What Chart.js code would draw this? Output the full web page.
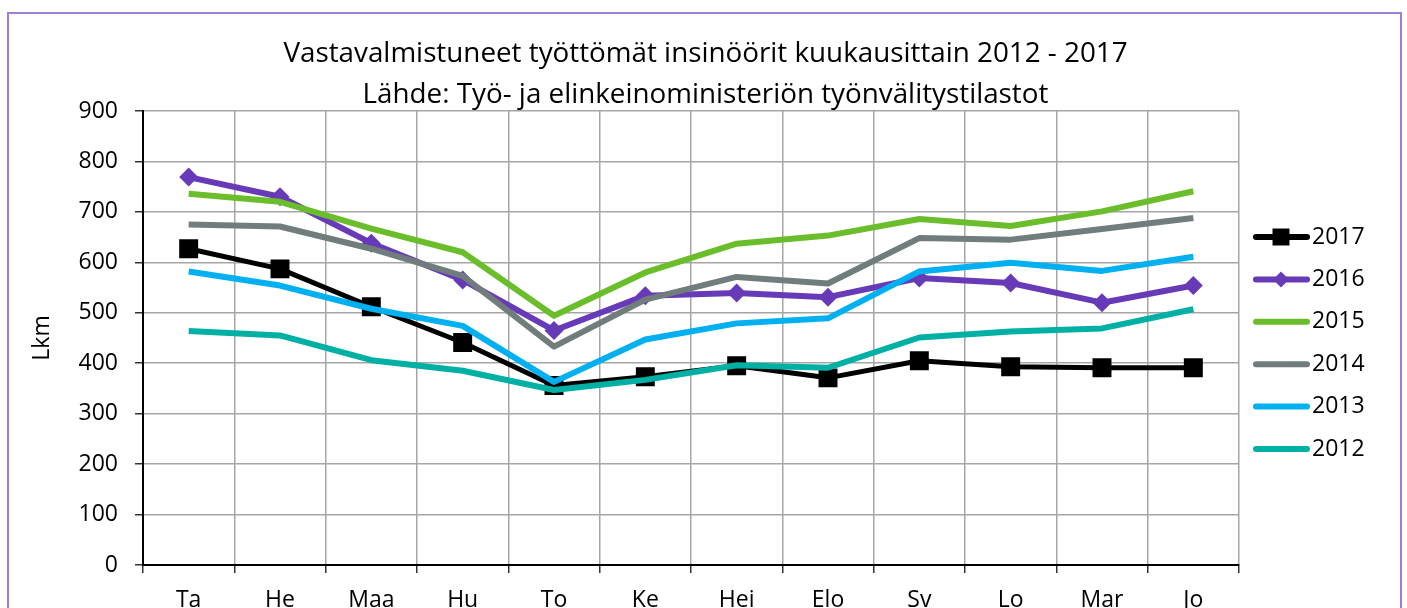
<!DOCTYPE html>
<html>
<head>
<meta charset="utf-8">
<script src="https://cdn.jsdelivr.net/npm/chart.js@4"></script>
<style>
    body { margin: 0; overflow: hidden; background: #fff; }
    #frame {
        position: absolute; left: 7px; top: 12px;
        width: 1391px; height: 660px;
        border: 2px solid #9B80D6;
    }
    canvas { display: block; }
</style>
</head>
<body>
<div id="frame"><canvas id="unemployedChart" width="1391" height="640"></canvas></div>
<script>
const months = ['Ta', 'He', 'Maa', 'Hu', 'To', 'Ke', 'Hei', 'Elo', 'Sv', 'Lo', 'Mar', 'Jo'];
const yTicks = [0, 100, 200, 300, 400, 500, 600, 700, 800, 900];

const y2017 = [627, 587, 512, 441, 356, 373, 395, 371, 405, 393, 391, 391];
const y2016 = [769, 730, 638, 565, 465, 534, 539, 531, 569, 559, 520, 554];
const y2015 = [736, 720, 667, 620, 494, 580, 637, 653, 686, 672, 701, 741];
const y2014 = [675, 671, 627, 573, 433, 526, 571, 558, 648, 645, 666, 688];
const y2013 = [582, 554, 508, 474, 363, 447, 479, 489, 582, 599, 583, 611];
const y2012 = [464, 455, 406, 385, 347, 367, 396, 391, 451, 463, 469, 507];

const titleLines = [
    'Vastavalmistuneet työttömät insinöörit kuukausittain 2012 - 2017',
    'Lähde: Työ- ja elinkeinoministeriön työnvälitystilastot'
];

const FONT = '"Open Sans"';

// title and legend drawn by hand so they sit where the original had them
const titleAndLegend = {
    id: 'titleAndLegend',
    afterDraw(chart) {
        const ctx = chart.ctx;
        ctx.save();
        ctx.fillStyle = '#000';
        ctx.textAlign = 'center';
        ctx.textBaseline = 'middle';
        ctx.font = '27.8px ' + FONT;
        ctx.fillText(titleLines[0], chart.width / 2 + 1, 40);
        ctx.fillText(titleLines[1], chart.width / 2 + 1, 81);

        ctx.font = '23px ' + FONT;
        ctx.textAlign = 'left';
        chart.data.datasets.forEach(function (ds, i) {
            const y = 223 + i * 42.4;
            ctx.strokeStyle = ds.borderColor;
            ctx.lineWidth = 6;
            ctx.lineCap = 'round';
            ctx.beginPath();
            ctx.moveTo(1247, y);
            ctx.lineTo(1298, y);
            ctx.stroke();
            if (ds.pointRadius > 0) {
                ctx.fillStyle = ds.borderColor;
                Chart.helpers.drawPoint(ctx, {
                    pointStyle: ds.pointStyle,
                    radius: ds.pointStyle === 'rect' ? 12 : 8,
                    rotation: 0,
                    borderWidth: 0
                }, 1272, y);
            }
            ctx.fillStyle = '#000';
            ctx.fillText(ds.label, 1303, y);
        });
        ctx.restore();
    }
};

function series(label, data, color, order, extra) {
    return Object.assign({
        label: label,
        data: data,
        borderColor: color,
        backgroundColor: color,
        borderWidth: 6,
        pointRadius: 0,
        pointHoverRadius: 0,
        tension: 0,
        order: order,
        borderJoinStyle: 'round'
    }, extra || {});
}

document.addEventListener('DOMContentLoaded', function () {
    const ctx = document.getElementById('unemployedChart').getContext('2d');

    const data = {
        labels: months,
        datasets: [
            series('2017', y2017, '#000000', 6, { borderWidth: 5, pointStyle: 'rect', pointRadius: 13.4, pointBorderWidth: 0 }),
            series('2016', y2016, '#673AB7', 5, { pointStyle: 'rectRot', pointRadius: 9.5, pointBorderWidth: 0 }),
            series('2015', y2015, '#6BBE2B', 4),
            series('2014', y2014, '#717D7D', 3),
            series('2013', y2013, '#00B0F0', 2),
            series('2012', y2012, '#00B0A4', 1)
        ]
    };

    const config = {
        type: 'line',
        data: data,
        options: {
            responsive: false,
            animation: false,
            layout: {
                padding: { top: 97, right: 161, left: 0, bottom: 0 }
            },
            plugins: {
                legend: { display: false },
                title: { display: false },
                tooltip: { enabled: false }
            },
            scales: {
                x: {
                    offset: true,
                    grid: {
                        offset: true,
                        color: '#A6A6A6',
                        lineWidth: 1.5,
                        tickLength: 8,
                        tickColor: '#333'
                    },
                    border: { color: '#000', width: 2 },
                    ticks: {
                        color: '#000',
                        padding: 14,
                        font: { family: FONT, size: 23 }
                    },
                    afterFit: function (scale) { scale.height = 89; }
                },
                y: {
                    min: 0,
                    max: 900,
                    afterBuildTicks: function (scale) {
                        scale.ticks = yTicks.map(v => ({ value: v }));
                    },
                    grid: {
                        color: '#A6A6A6',
                        lineWidth: 1.5,
                        tickLength: 8,
                        tickColor: '#333'
                    },
                    border: { color: '#000', width: 2 },
                    ticks: {
                        color: '#000',
                        padding: 17,
                        font: { family: FONT, size: 23 }
                    },
                    title: {
                        display: true,
                        text: 'Lkm',
                        color: '#000',
                        padding: { top: 20, bottom: 0 },
                        font: { family: FONT, size: 23 }
                    },
                    afterFit: function (scale) { scale.width = 134; }
                }
            }
        },
        plugins: [titleAndLegend]
    };

    new Chart(ctx, config);
});
</script>
</body>
</html>
